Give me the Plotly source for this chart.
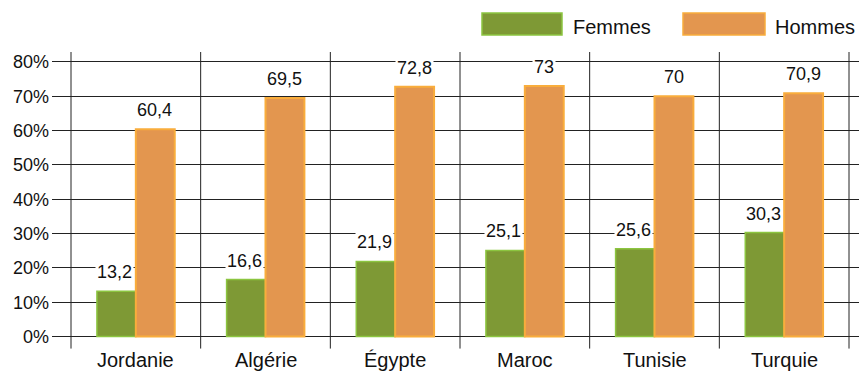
import plotly.graph_objects as go

categories = ["Jordanie", "Algérie", "Égypte", "Maroc", "Tunisie", "Turquie"]
femmes = [13.2, 16.6, 21.9, 25.1, 25.6, 30.3]
hommes = [60.4, 69.5, 72.8, 73, 70, 70.9]
series_names = ["Femmes", "Hommes"]
y_ticks = [0, 10, 20, 30, 40, 50, 60, 70, 80]
y_tick_labels = [f"{v}%" for v in y_ticks]

green_fill = "#7e9935"
green_line = "#8cc540"
orange_fill = "#e3964f"
orange_line = "#f9ad3c"
FONT = "Liberation Sans, Arial, sans-serif"

def fr(v):
    s = f"{v:g}"
    return s.replace(".", ",")

fig = go.Figure()
fig.add_bar(x=categories, y=femmes, name=series_names[0],
            marker=dict(color=green_fill, line=dict(color=green_line, width=1.5)))
fig.add_bar(x=categories, y=hommes, name=series_names[1],
            marker=dict(color=orange_fill, line=dict(color=orange_line, width=2)))

annotations = []
for i, cat in enumerate(categories):
    for vals, shift in ((femmes, -21), (hommes, 19)):
        annotations.append(dict(
            x=cat, y=vals[i], xref="x", yref="y", text=fr(vals[i]),
            showarrow=False, yanchor="bottom", xshift=shift, yshift=7,
            font=dict(family=FONT, size=18, color="#111"),
            bgcolor="white", borderpad=1))
    # category label
    annotations.append(dict(x=cat, y=0, xref="x", yref="paper", text=cat,
                            showarrow=False, yanchor="top", yshift=5,
                            font=dict(family=FONT, size=20, color="#111")))

# legend drawn manually
leg_items = [(series_names[0], green_fill, green_line, 482, 562, 571),
             (series_names[1], orange_fill, orange_line, 683, 765, 773)]
W, H = 859, 373
T, B = 52, 352.5
shapes = []
for name, fc, lc, x0, x1, tx in leg_items:
    shapes.append(dict(type="rect", xref="paper", yref="paper",
                       x0=(x0 - 52) / (W - 52), x1=(x1 - 52) / (W - 52),
                       y0=(B - 35) / (B - T), y1=(B - 13) / (B - T),
                       fillcolor=fc, line=dict(color=lc, width=1.5), layer="above"))
    annotations.append(dict(xref="paper", yref="paper",
                            x=(tx - 52) / (W - 52), y=(B - 27) / (B - T),
                            text=name, showarrow=False, xanchor="left", yanchor="middle",
                            font=dict(family=FONT, size=20, color="#111")))

# vertical separators
for k in range(len(categories) + 1):
    shapes.append(dict(type="line", xref="x", yref="y", x0=k - 0.5, x1=k - 0.5,
                       y0=-3.5, y1=82.9, line=dict(color="#222", width=1), layer="below"))

fig.update_layout(
    width=W, height=H,
    margin=dict(l=52, r=0, t=T, b=H - B, autoexpand=False),
    paper_bgcolor="white", plot_bgcolor="white",
    barmode="group", bargap=0.4, bargroupgap=0,
    showlegend=False,
    shapes=shapes, annotations=annotations,
    font=dict(family=FONT, color="#111"),
)
fig.update_xaxes(range=[-0.5 - 19 / 129.67, 5.5 + 10 / 129.67], showgrid=False,
                 showline=False, ticks="", showticklabels=False, zeroline=False,
                 automargin=False)
fig.update_yaxes(range=[-4.5, 82.9], tickvals=y_ticks, ticktext=y_tick_labels,
                 showgrid=True, gridcolor="#222", gridwidth=1, zeroline=True,
                 zerolinecolor="#222", zerolinewidth=1, showline=False,
                 tickfont=dict(size=18), ticklabelstandoff=2, automargin=False)

fig.write_html("out.html")
